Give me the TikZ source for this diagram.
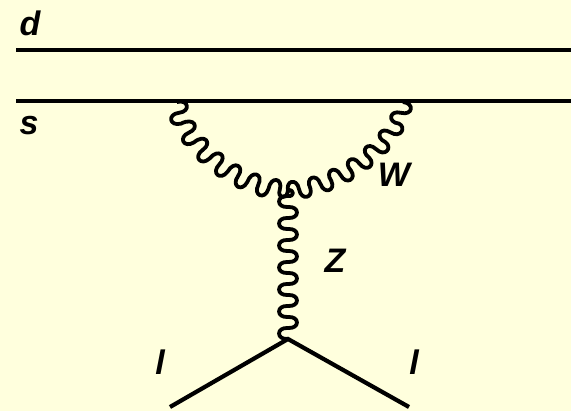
\documentclass[tikz,border=0pt]{standalone}
\usepackage{fontspec}
\setmainfont{Liberation Sans}
\usetikzlibrary{decorations}
\definecolor{bgc}{HTML}{FFFFDD}
\pgfdeclaredecoration{swiggle}{wig}{
  \state{wig}[switch if less than=\pgfdecorationsegmentlength to final,width=\pgfdecorationsegmentlength]{
    \pgfmathsetlengthmacro{\wl}{\pgfdecorationsegmentlength}
    \pgfmathsetlengthmacro{\wa}{\pgfdecorationsegmentamplitude}
    \pgfpathcurveto{\pgfpoint{-0.04*\wl}{1.33*\wa}}{\pgfpoint{0.54*\wl}{1.33*\wa}}{\pgfpoint{0.5*\wl}{0pt}}
    \pgfpathcurveto{\pgfpoint{0.46*\wl}{-1.33*\wa}}{\pgfpoint{1.04*\wl}{-1.33*\wa}}{\pgfpoint{\wl}{0pt}}
  }
  \state{final}{
    \pgfmathsetlengthmacro{\wl}{\pgfdecorationsegmentlength}
    \pgfmathsetlengthmacro{\wa}{\pgfdecorationsegmentamplitude}
    \pgfmathsetlengthmacro{\wr}{\pgfdecoratedremainingdistance}
    \ifdim\wr>0.5\pgfdecorationsegmentlength\relax
      \pgfmathsetlengthmacro{\ws}{\wr-0.5*\wl}
      \pgfpathcurveto{\pgfpoint{-0.04*\wl}{1.33*\wa}}{\pgfpoint{0.54*\wl}{1.33*\wa}}{\pgfpoint{0.5*\wl}{0pt}}
      \pgfpathcurveto{\pgfpoint{0.46*\wl}{-1.33*\wa*\ws/(0.5*\wl)}}{\pgfpoint{0.5*\wl+1.08*\ws}{-1.33*\wa*\ws/(0.5*\wl)}}{\pgfpoint{\wr}{0pt}}
    \else
      \pgfpathcurveto{\pgfpoint{-0.04*\wr}{1.33*\wa*\wr/(0.5*\wl)}}{\pgfpoint{1.04*\wr}{1.33*\wa*\wr/(0.5*\wl)}}{\pgfpoint{\wr}{0pt}}
    \fi
    \pgfpathlineto{\pgfpointdecoratedpathlast}
  }
}
\tikzset{
  fermion/.style={line width=4.2pt,line cap=butt},
  boson/.style={line width=3.8pt,line join=round,decorate,decoration={swiggle,amplitude=9pt,segment length=#1}},
  boson/.default=22pt,
  lab/.style={font=\bfseries\itshape\fontsize{34}{34}\selectfont,inner sep=0pt}
}
\begin{document}
\begin{tikzpicture}[x=1pt,y=-1pt]
\useasboundingbox[fill=bgc] (0,0) rectangle (571,411);
\coordinate (dl) at (16,50);
\coordinate (dr) at (571,50);
\coordinate (sl) at (16,101);
\coordinate (sr) at (571,101);
\coordinate (wl) at (177,102);
\coordinate (wr) at (403,102);
\coordinate (wz) at (288,190);
\coordinate (zl) at (288,339);
\coordinate (la) at (170,407);
\coordinate (lb) at (409,407);
\draw[fermion] (dl) -- (dr);
\draw[fermion] (sl) -- (sr);
\draw[boson] (wl) .. controls (185,145) and (235,187) .. (wz);
\draw[boson] (wr) .. controls (395,145) and (340,187) .. (wz);
\draw[boson] (zl) -- (wz);
\draw[fermion] (la) -- (zl) -- (lb);
\node[lab] (d) at (30,23) {d};
\node[lab] (s) at (29,126) {s};
\node[lab] (W) at (394,175) {W};
\node[lab] (Z) at (335,261) {Z};
\node[lab] (l1) at (160,362) {l};
\node[lab] (l2) at (414,362) {l};
\end{tikzpicture}
\end{document}
